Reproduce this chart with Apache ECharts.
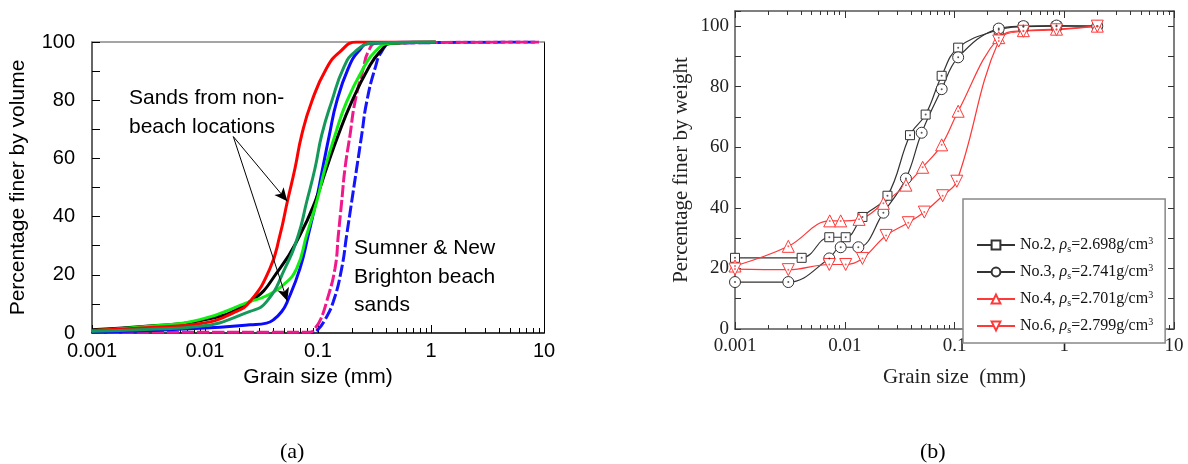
<!DOCTYPE html>
<html>
<head>
<meta charset="utf-8">
<script src="https://cdn.jsdelivr.net/npm/echarts@6/dist/echarts.min.js"></script>
<style>
html,body{margin:0;padding:0;background:#fff;}
#c{width:1188px;height:464px;}
</style>
</head>
<body>
<div id="c"></div>
<script>
// ---------- Panel (a): volume-based grading curves ----------
const redX   = [0.001, 0.003, 0.009, 0.018, 0.025, 0.0376, 0.0461, 0.0535, 0.0626, 0.0717, 0.0879, 0.119, 0.157, 0.22, 1.1];
const redY   = [0.9, 1.8, 3.2, 7, 10.8, 22.2, 33.7, 45.1, 56.6, 68, 79.5, 91, 96.7, 100, 100];
const blackX = [0.001, 0.003, 0.009, 0.025, 0.0461, 0.0693, 0.0941, 0.119, 0.151, 0.199, 0.279, 0.354, 0.45, 1.1];
const blackY = [1.1, 2.3, 4.2, 10.8, 22.2, 33.7, 45.1, 56.6, 68, 79.5, 91, 96.7, 99.6, 100];
const limeX  = [0.001, 0.003, 0.009, 0.025, 0.0351, 0.0493, 0.0648, 0.0794, 0.0973, 0.1153, 0.1414, 0.1794, 0.252, 0.32, 0.434, 1.1];
const limeY  = [0.8, 2.2, 4.6, 10.8, 12.8, 16.5, 22.2, 33.7, 45.1, 56.6, 68, 79.5, 91, 96.7, 99.6, 100];
const dkgrX  = [0.001, 0.003, 0.009, 0.025, 0.0351, 0.051, 0.067, 0.0794, 0.0941, 0.1078, 0.132, 0.168, 0.213, 0.31, 1.1];
const dkgrY  = [0.6, 1.2, 2.3, 7.4, 10.8, 22.2, 33.7, 45.1, 56.6, 68, 79.5, 91, 96.7, 99.6, 100];
const blueX  = [0.001, 0.003, 0.009, 0.025, 0.0351, 0.0402, 0.0478, 0.0535, 0.0693, 0.0821, 0.096, 0.11, 0.126, 0.1463, 0.1855, 0.2275, 0.289, 1.1];
const blueY  = [0.3, 0.8, 1.6, 2.8, 3.4, 4.5, 7.4, 10.8, 22.2, 33.7, 45.1, 56.6, 68, 79.5, 91, 96.7, 99.6, 100];
const pinkX  = [0.001, 0.01, 0.05, 0.085, 0.0941, 0.105, 0.1193, 0.1414, 0.1514, 0.162, 0.1734, 0.192, 0.2126, 0.252, 0.279, 0.33, 9];
const pinkY  = [0.3, 0.3, 0.3, 0.3, 1.6, 4.5, 10.8, 22.2, 33.7, 45.1, 56.6, 68, 79.5, 91, 96.7, 99.6, 100];
const bdashX = [0.001, 0.01, 0.05, 0.09, 0.1, 0.115, 0.1367, 0.162, 0.1794, 0.1986, 0.22, 0.2435, 0.27, 0.32, 0.366, 0.449, 9];
const bdashY = [0.2, 0.2, 0.2, 0.2, 1.2, 4.5, 10.8, 22.2, 33.7, 45.1, 56.6, 68, 79.5, 91, 96.7, 99.6, 100];

// ---------- Panel (b): weight-based grading curves ----------
const no2X = [0.001, 0.00405, 0.00723, 0.0102, 0.0145, 0.0245, 0.0393, 0.0546, 0.0764, 0.108, 0.253, 0.424, 0.85, 2.0];
const no2Y = [23.5, 23.5, 30.3, 30.3, 37, 44, 64, 70.8, 83.6, 92.9, 98.8, 99.8, 100, 100];
const no3X = [0.001, 0.00306, 0.00723, 0.00918, 0.0133, 0.0225, 0.0361, 0.0502, 0.0764, 0.108, 0.253, 0.424, 0.85, 2.0];
const no3Y = [15.5, 15.5, 23.3, 27, 27, 38.4, 49.7, 64.8, 79.2, 89.7, 99.2, 100, 100.2, 100];
const no4X = [0.001, 0.00306, 0.0073, 0.00918, 0.0135, 0.0225, 0.0361, 0.0513, 0.0764, 0.108, 0.253, 0.424, 0.85, 2.0];
const no4Y = [20.8, 27.3, 35.7, 35.7, 36.2, 41.5, 47.5, 53.4, 60.8, 71.9, 96.2, 98.5, 99, 100];
const no6X = [0.001, 0.00306, 0.00723, 0.0102, 0.0145, 0.0238, 0.0379, 0.0531, 0.078, 0.105, 0.253, 0.424, 0.85, 2.0];
const no6Y = [19.8, 19.6, 21.3, 21.3, 23.3, 30.9, 35.1, 38.6, 44, 48.8, 95.1, 98.3, 98.8, 100];
const spotNames = ['No.2', 'No.3', 'No.4', 'No.6'];
const densities = ['2.698', '2.741', '2.701', '2.799'];

// ---------- Axis ticks ----------
const yTickLabels = [0, 20, 40, 60, 80, 100];
const minorExps = [];
for (let d = -3; d <= 0; d++) for (let k = 2; k <= 9; k++) minorExps.push(Math.log10(k) + d);

const pair = (xs, ys) => xs.map((x, i) => [x, ys[i]]);
const SANS = 'Liberation Sans';
const SERIF = 'Liberation Serif';

function logAxis(grid, opts) {
  return Object.assign({
    type: 'log', logBase: 10, min: 0.001, max: 10, gridIndex: grid,
    splitLine: {show: false}, minorTick: {show: false}
  }, opts);
}
function minorAxis(grid, pos, len, color) {
  return {
    type: 'value', min: -3, max: 1, gridIndex: grid, position: pos,
    axisLine: {show: false, onZero: false}, splitLine: {show: false}, axisLabel: {show: false},
    axisTick: {show: true, inside: true, length: len, customValues: minorExps, lineStyle: {color: color, width: 1}}
  };
}

const chart = echarts.init(document.getElementById('c'), null, {renderer: 'canvas'});

const lineA = (name, xs, ys, color, dashed) => ({
  name: name, type: 'line', xAxisIndex: 0, yAxisIndex: 0,
  data: pair(xs, ys), showSymbol: false, symbol: 'none',
  smooth: 0.5,
  lineStyle: {color: color, width: 3, type: dashed ? [12, 3] : 'solid'},
  silent: true
});

const richLegend = {
  t: {fontFamily: SERIF, fontSize: 16, lineHeight: 18, color: '#111'},
  i: {fontFamily: SERIF, fontSize: 16, lineHeight: 18, color: '#111', fontStyle: 'italic'},
  s: {fontFamily: SERIF, fontSize: 10, lineHeight: 9, verticalAlign: 'bottom', color: '#111'},
  p: {fontFamily: SERIF, fontSize: 10, lineHeight: 9, verticalAlign: 'top', color: '#111'}
};

const markers = {
  'No.2': {symbol: 'rect', size: 9, color: '#333'},
  'No.3': {symbol: 'circle', size: 11, color: '#333'},
  'No.4': {symbol: 'triangle', size: 12, color: '#ff3838', rot: 0},
  'No.6': {symbol: 'triangle', size: 12, color: '#ff3838', rot: 180}
};
const bData = {'No.2': [no2X, no2Y], 'No.3': [no3X, no3Y], 'No.4': [no4X, no4Y], 'No.6': [no6X, no6Y]};

const seriesB = [];
const dotsB = [];
spotNames.forEach((n) => {
  const m = markers[n];
  seriesB.push({
    name: n, type: 'line', xAxisIndex: 4, yAxisIndex: 2,
    data: pair(bData[n][0], bData[n][1]),
    smooth: 0.4,
    symbol: m.symbol, symbolSize: m.size, symbolRotate: m.rot || 0, showSymbol: true,
    lineStyle: {color: m.color, width: 1.2},
    itemStyle: {color: '#fff', borderColor: m.color, borderWidth: 1},
    emphasis: {disabled: true}
  });
  dotsB.push({
    name: n + ' dot', type: 'scatter', xAxisIndex: 4, yAxisIndex: 2,
    data: pair(bData[n][0], bData[n][1]), symbol: 'circle', symbolSize: 2,
    itemStyle: {color: m.color}, silent: true, z: 3
  });
});

const option = {
  animation: false,
  backgroundColor: '#fff',
  grid: [
    {left: 92, top: 42, width: 452, height: 291},
    {left: 735, top: 11, width: 439, height: 318}
  ],
  xAxis: [
    // panel a
    logAxis(0, {
      position: 'bottom',
      name: 'Grain size (mm)', nameLocation: 'middle', nameGap: 34,
      nameTextStyle: {fontFamily: SANS, fontSize: 21, color: '#000'},
      axisLine: {show: true, onZero: false, lineStyle: {color: '#000', width: 1.5}},
      axisTick: {show: true, inside: true, length: 8, lineStyle: {color: '#000', width: 1}},
      axisLabel: {fontFamily: SANS, fontSize: 20, color: '#000', margin: 8}
    }),
    minorAxis(0, 'bottom', 5, '#000'),
    logAxis(0, {
      position: 'top',
      axisLine: {show: true, onZero: false, lineStyle: {color: '#888', width: 1.5}},
      axisTick: {show: false}, axisLabel: {show: false}
    }),
    // panel b
    logAxis(1, {position: 'top',
      axisLine: {show: true, onZero: false, lineStyle: {color: '#555', width: 1.5}},
      axisTick: {show: true, inside: true, length: 7, lineStyle: {color: '#333', width: 1}},
      axisLabel: {show: false}
    }),
    logAxis(1, {
      position: 'bottom',
      name: 'Grain size  (mm)', nameLocation: 'middle', nameGap: 38,
      nameTextStyle: {fontFamily: SERIF, fontSize: 21, color: '#222'},
      axisLine: {show: true, onZero: false, lineStyle: {color: '#555', width: 1.5}},
      axisTick: {show: true, inside: true, length: 7, lineStyle: {color: '#333', width: 1}},
      axisLabel: {fontFamily: SERIF, fontSize: 19, color: '#222', margin: 8}
    }),
    minorAxis(1, 'bottom', 4, '#333'),
    minorAxis(1, 'top', 4, '#333')
  ],
  yAxis: [
    {
      type: 'value', gridIndex: 0, min: 0, max: 100, interval: 10, position: 'left',
      name: 'Percentage finer by volume', nameLocation: 'middle', nameGap: 63,
      nameTextStyle: {fontFamily: SANS, fontSize: 21, color: '#000'},
      axisLine: {show: true, onZero: false, lineStyle: {color: '#333', width: 1.5}},
      axisTick: {show: true, inside: true, length: 8, lineStyle: {color: '#000', width: 1}},
      axisLabel: {fontFamily: SANS, fontSize: 20, color: '#000', margin: 17,
        formatter: v => yTickLabels.indexOf(v) >= 0 ? String(v) : ''},
      splitLine: {show: false}
    },
    {
      type: 'value', gridIndex: 0, min: 0, max: 100, position: 'right',
      axisLine: {show: true, onZero: false, lineStyle: {color: '#000', width: 1}},
      axisTick: {show: false}, axisLabel: {show: false}, splitLine: {show: false}
    },
    {
      type: 'value', gridIndex: 1, min: 0, max: 105, interval: 10, position: 'left',
      name: 'Percentage finer by weight', nameLocation: 'middle', nameGap: 43,
      nameTextStyle: {fontFamily: SERIF, fontSize: 21, color: '#222'},
      axisLine: {show: true, onZero: false, lineStyle: {color: '#555', width: 1.5}},
      axisTick: {show: true, inside: true, length: 6, lineStyle: {color: '#333', width: 1}},
      axisLabel: {fontFamily: SERIF, fontSize: 19, color: '#222', margin: 6,
        formatter: v => yTickLabels.indexOf(v) >= 0 ? String(v) : ''},
      splitLine: {show: false}
    },
    {
      type: 'value', gridIndex: 1, min: 0, max: 105, interval: 10, position: 'right',
      axisLine: {show: true, onZero: false, lineStyle: {color: '#555', width: 1.5}},
      axisTick: {show: true, inside: true, length: 6, lineStyle: {color: '#333', width: 1}},
      axisLabel: {show: false}, splitLine: {show: false}
    }
  ],
  legend: {
    data: spotNames, left: 963, top: 199, orient: 'vertical',
    itemWidth: 38, itemHeight: 11, itemGap: 9,
    padding: [37, 12, 8, 13],
    borderColor: '#888', borderWidth: 1.5, backgroundColor: '#fff',
    selectedMode: false,
    formatter: name => {
      const d = densities[spotNames.indexOf(name)];
      return '{t|' + name + ', }{i|ρ}{s|s}{t|=' + d + 'g/cm}{p|3}';
    },
    textStyle: {rich: richLegend, fontFamily: SERIF, fontSize: 16, color: '#111'}
  },
  series: [
    lineA('blue dashed', bdashX, bdashY, '#1414ff', true),
    lineA('pink dashed', pinkX, pinkY, '#f0188c', true),
    lineA('blue', blueX, blueY, '#0a0aff', false),
    lineA('black', blackX, blackY, '#000000', false),
    lineA('lime', limeX, limeY, '#11ee11', false),
    Object.assign(lineA('red', redX, redY, '#ff0000', false), {
      markLine: {
        silent: true, symbol: ['none', 'arrow'], symbolSize: [9, 13],
        label: {show: false},
        lineStyle: {color: '#000', width: 1, type: 'solid'},
        data: [
          [{coord: [0.0178, 67.5]}, {coord: [0.0535, 45.3]}],
          [{coord: [0.0178, 67.5]}, {coord: [0.0535, 11.0]}]
        ]
      }
    }),
    lineA('dark green', dkgrX, dkgrY, '#14995a', false),
    ...seriesB,
    ...dotsB
  ],
  graphic: [
    {type: 'text', left: 129, top: 84, style: {text: 'Sands from non-\nbeach locations', font: '21px "Liberation Sans"', fill: '#000', lineHeight: 29}},
    {type: 'text', left: 354, top: 234, style: {text: 'Sumner & New\nBrighton beach\nsands', font: '21px "Liberation Sans"', fill: '#000', lineHeight: 28.5}},
    {type: 'text', left: 977, top: 209, style: {text: 'SWS Spot No.', font: '16px "Liberation Serif"', fill: '#111'}},
    {type: 'text', left: 280, top: 441, style: {text: '(a)', font: '22px "Liberation Serif"', fill: '#000', textAlign: 'center', textVerticalAlign: 'middle'}},
    {type: 'text', left: 920, top: 441, style: {text: '(b)', font: '22px "Liberation Serif"', fill: '#000', textAlign: 'center', textVerticalAlign: 'middle'}}
  ]
};
chart.setOption(option);
</script>
</body>
</html>
